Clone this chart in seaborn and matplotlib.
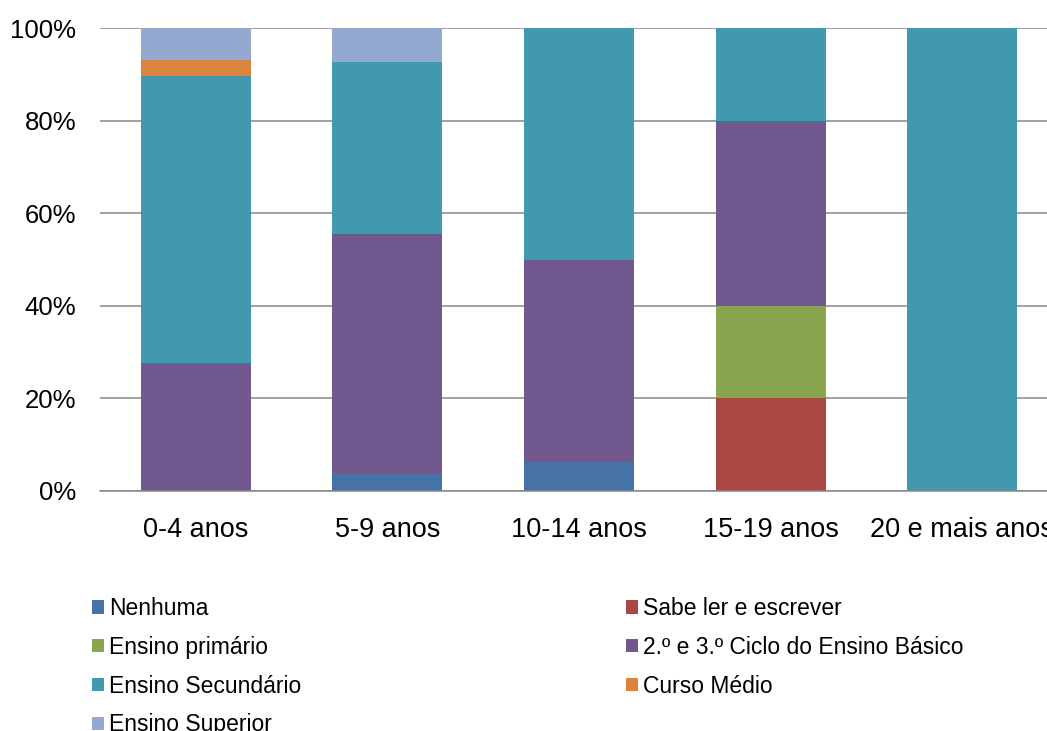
import numpy as np
import seaborn as sns
import matplotlib.pyplot as plt
from matplotlib.patches import Patch
from matplotlib.ticker import PercentFormatter

faixas = ["0-4 anos", "5-9 anos", "10-14 anos", "15-19 anos", "20 e mais anos"]

# percent of each age group by education level
nenhuma = [0, 3.7, 6.25, 0, 0]
sabe_ler = [0, 0, 0, 20, 0]
primario = [0, 0, 0, 20, 0]
basico_23 = [27.6, 51.9, 43.75, 40, 0]
secundario = [62.1, 37.0, 50, 20, 100]
curso_medio = [3.4, 0, 0, 0, 0]
superior = [6.9, 7.4, 0, 0, 0]

series = [
    ("Nenhuma", nenhuma, "#4572A7"),
    ("Sabe ler e escrever", sabe_ler, "#AA4643"),
    ("Ensino primário", primario, "#89A54E"),
    ("2.º e 3.º Ciclo do Ensino Básico", basico_23, "#71588F"),
    ("Ensino Secundário", secundario, "#4198AF"),
    ("Curso Médio", curso_medio, "#DB843D"),
    ("Ensino Superior", superior, "#93A9CF"),
]

sns.set_style("white")
plt.rcParams['font.family'] = ['Liberation Sans', 'DejaVu Sans']

fig = plt.figure(figsize=(10.47, 7.31), dpi=100)
ax = fig.add_axes([100/1047, 1-491/731, 958/1047, 463/731])

bottom = np.zeros(len(faixas))
for name, vals, col in series:
    sns.barplot(x=faixas, y=vals, bottom=bottom, color=col, saturation=1,
                width=0.574, ax=ax, edgecolor="none", linewidth=0)
    bottom = bottom + np.array(vals)

ax.set_ylim(0, 100)
ax.set_xlim(-0.5, 4.5)
ax.set_yticks([0, 20, 40, 60, 80, 100])
ax.yaxis.set_major_formatter(PercentFormatter(decimals=0))
ax.grid(axis="y", color="#878787", lw=1.1)
ax.set_axisbelow(True)
for s in ["top", "right", "left"]:
    ax.spines[s].set_visible(False)
ax.spines["bottom"].set_color("#878787")
ax.spines["bottom"].set_linewidth(1.1)
ax.tick_params(axis="both", length=0, colors="black")
ax.tick_params(axis="x", pad=19, labelsize=19.5)
ax.tick_params(axis="y", pad=17, labelsize=18.5)
ax.set_xlabel("")
ax.set_ylabel("")

# legend: two columns, filled column-wise
handles = {name: Patch(facecolor=col, edgecolor="none") for name, vals, col in series}
order = ["Nenhuma", "Ensino primário", "Ensino Secundário", "Ensino Superior",
         "Sabe ler e escrever", "2.º e 3.º Ciclo do Ensino Básico", "Curso Médio"]
fig.legend([handles[n] for n in order], order, loc="upper left",
           bbox_to_anchor=(92/1047, 1-597/731), ncol=2, frameon=False,
           fontsize=16.5, handlelength=0.53, handleheight=0.53, handletextpad=0.22,
           labelspacing=0.69, columnspacing=14.15, borderpad=0, borderaxespad=0,
           labelcolor="black")

plt.savefig("out.png", dpi=100)
